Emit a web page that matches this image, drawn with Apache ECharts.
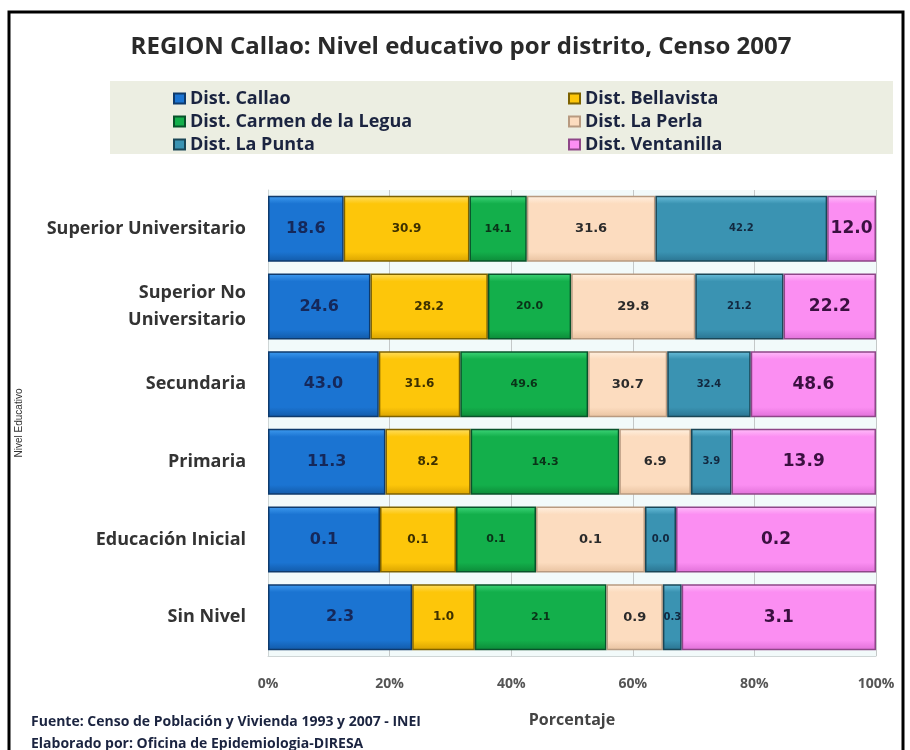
<!DOCTYPE html>
<html>
<head>
<meta charset="utf-8">
<script src="https://cdn.jsdelivr.net/npm/echarts@6/dist/echarts.min.js"></script>
<style>
  html, body { margin: 0; padding: 0; background: #fff; }
  #chart { width: 910px; height: 750px; }
</style>
</head>
<body>
<div id="chart"></div>
<script>
// niveles educativos (de arriba hacia abajo)
var categorias = ['Superior Universitario', 'Superior No\nUniversitario', 'Secundaria', 'Primaria', 'Educación Inicial', 'Sin Nivel'];
var distritos = ['Dist. Callao', 'Dist. Bellavista', 'Dist. Carmen de la Legua', 'Dist. La Perla', 'Dist. La Punta', 'Dist. Ventanilla'];

// porcentaje por distrito (Educación Inicial estimado sin redondeo, segun ancho de barra)
var callao     = [18.6, 24.6, 43.0, 11.3, 0.112, 2.3];
var bellavista = [30.9, 28.2, 31.6, 8.2, 0.076, 1.0];
var carmen     = [14.1, 20.0, 49.6, 14.3, 0.080, 2.1];
var laPerla    = [31.6, 29.8, 30.7, 6.9, 0.109, 0.9];
var laPunta    = [42.2, 21.2, 32.4, 3.9, 0.031, 0.3];
var ventanilla = [12.0, 22.2, 48.6, 13.9, 0.2, 3.1];

var ticksX = [0, 20, 40, 60, 80, 100];

var valores = [callao, bellavista, carmen, laPerla, laPunta, ventanilla];

// colores: claro, principal, oscuro, borde, texto
var colores = [
  ['#3f9cf0', '#1b74d2', '#125aa8', '#0e3a6c', '#15285a'],
  ['#ffe066', '#fdc60a', '#d9a300', '#7d6200', '#3d3000'],
  ['#3fd67a', '#13af4b', '#0c8a38', '#08522a', '#0a3318'],
  ['#fff1e2', '#fcdcbf', '#e8c2a0', '#b89a80', '#2b2b2b'],
  ['#6cc0dc', '#3a93b2', '#2a7390', '#1a4656', '#12283f'],
  ['#ffc0fa', '#fb8ef2', '#e070d8', '#8e4688', '#3a1040']
];
var tamLabel = [16, 12, 11, 13, 10, 17];

// 100% apilado: cada fila se normaliza a su total
var totales = categorias.map(function (c, i) {
  var s = 0;
  valores.forEach(function (arr) { s += arr[i]; });
  return s;
});

var series = distritos.map(function (nombre, k) {
  var c = colores[k];
  return {
    name: nombre,
    type: 'bar',
    stack: 'total',
    barCategoryGap: '15%',
    data: valores[k].map(function (v, i) { return v / totales[i] * 100; }),
    itemStyle: {
      color: new echarts.graphic.LinearGradient(0, 0, 0, 1, [
        { offset: 0, color: c[0] },
        { offset: 0.12, color: c[1] },
        { offset: 0.85, color: c[1] },
        { offset: 1, color: c[2] }
      ]),
      borderColor: c[3],
      borderWidth: 1.5
    },
    label: {
      show: true,
      position: 'inside',
      color: c[4],
      fontFamily: 'DejaVu Sans',
      fontWeight: 'bold',
      fontSize: tamLabel[k],
      formatter: function (p) {
        return valores[p.seriesIndex][p.dataIndex].toFixed(1);
      }
    }
  };
});

var legendaBase = {
  orient: 'vertical',
  top: 84,
  icon: 'rect',
  itemWidth: 11,
  itemHeight: 10,
  itemGap: 4,
  textStyle: { fontFamily: 'Open Sans', fontWeight: 'bold', fontSize: 18, lineHeight: 19, color: '#1b2440' }
};

var chart = echarts.init(document.getElementById('chart'));
var option = {
  backgroundColor: '#ffffff',
  animation: false,
  title: [
    {
      text: 'REGION Callao: Nivel educativo por distrito, Censo 2007',
      left: 456,
      textAlign: 'center',
      top: 30,
      textStyle: { fontFamily: 'Open Sans', fontWeight: 'bold', fontSize: 24, color: '#2a2a2a' }
    },
    {
      text: 'Fuente: Censo de Población y Vivienda 1993 y 2007 - INEI\nElaborado por: Oficina de Epidemiologia-DIRESA',
      left: 26,
      top: 706,
      textStyle: { fontFamily: 'Open Sans', fontWeight: 'bold', fontSize: 14, lineHeight: 22, color: '#1b2440' }
    }
  ],
  graphic: [
    {
      type: 'rect',
      z: -10,
      shape: { x: 110, y: 81, width: 783, height: 73 },
      style: { fill: '#eceee2' }
    },
    {
      type: 'rect',
      z: 100,
      silent: true,
      shape: { x: 9, y: 12, width: 894, height: 760 },
      style: { fill: 'none', stroke: '#000', lineWidth: 3 }
    }
  ],
  legend: [
    Object.assign({ left: 168, data: [distritos[0], distritos[2], distritos[4]] }, legendaBase),
    Object.assign({ left: 563, data: [distritos[1], distritos[3], distritos[5]] }, legendaBase)
  ],
  grid: {
    left: 268,
    right: 34,
    top: 190,
    bottom: 94,
    show: true,
    backgroundColor: '#f2fafa',
    borderWidth: 0
  },
  xAxis: {
    type: 'value',
    min: ticksX[0],
    max: ticksX[ticksX.length - 1],
    interval: 20,
    name: 'Porcentaje',
    nameLocation: 'middle',
    nameGap: 56,
    nameTextStyle: { fontFamily: 'Open Sans', fontWeight: 'bold', fontSize: 16, color: '#444' },
    axisLine: { show: true, lineStyle: { color: '#cfd6d6' } },
    axisTick: { show: false },
    axisLabel: {
      margin: 21,
      fontFamily: 'Open Sans',
      fontWeight: 'bold',
      fontSize: 14,
      color: '#555',
      formatter: '{value}%'
    },
    splitLine: { show: true, lineStyle: { color: '#c4c8c8' } }
  },
  yAxis: {
    type: 'category',
    inverse: true,
    data: categorias,
    name: 'Nivel Educativo',
    nameLocation: 'middle',
    nameRotate: 90,
    nameGap: 244,
    nameTextStyle: { fontFamily: 'Liberation Sans Narrow, Liberation Sans', fontSize: 10, color: '#333' },
    axisLine: { show: true, lineStyle: { color: '#cfd6d6' } },
    axisTick: { show: false },
    axisLabel: {
      margin: 22,
      fontFamily: 'Open Sans',
      fontWeight: 'bold',
      fontSize: 18,
      lineHeight: 27,
      align: 'right',
      color: '#333'
    }
  },
  series: series
};
chart.setOption(option);
</script>
</body>
</html>
